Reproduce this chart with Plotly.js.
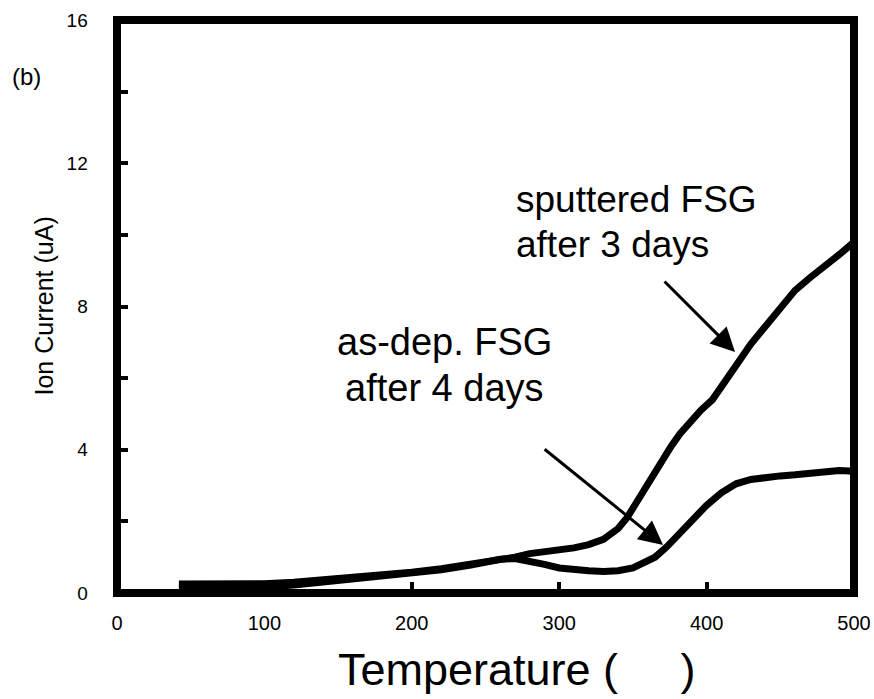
<!DOCTYPE html>
<html>
<head>
<meta charset="utf-8">
<script src="https://cdn.plot.ly/plotly-3.0.1.min.js"></script>
<style>html,body{margin:0;padding:0;background:#fff;}</style>
</head>
<body>
<div id="chart" style="width:874px;height:699px;"></div>
<script>
// Temperature (x) values and ion current (y) values
const tempSputtered = [42,60,80,100,120,140,160,180,200,220,240,250,260,270,280,290,300,310,320,330,340,346,352,358,364,370,376,382,389,396,404,412,420,430,440,450,460,470,480,490,500];
const ionSputtered  = [0.25,0.25,0.25,0.26,0.3,0.36,0.42,0.5,0.58,0.68,0.8,0.88,0.95,1.0,1.1,1.15,1.2,1.26,1.35,1.5,1.8,2.1,2.5,2.9,3.35,3.75,4.1,4.45,4.8,5.1,5.4,5.85,6.35,6.95,7.45,7.95,8.45,8.8,9.1,9.45,9.8];

const tempAsDep = [42,60,80,100,120,140,160,180,200,220,240,250,260,270,280,290,300,310,320,330,340,350,357,365,373,380,391,400,410,420,430,440,450,460,470,480,490,500];
const ionAsDep  = [0.15,0.15,0.15,0.17,0.22,0.3,0.38,0.47,0.55,0.65,0.78,0.86,0.94,0.96,0.9,0.8,0.7,0.64,0.62,0.6,0.62,0.7,0.82,1.0,1.29,1.6,2.04,2.45,2.8,3.05,3.17,3.23,3.27,3.3,3.35,3.4,3.42,3.4];

const xTicks = [0,100,200,300,400,500];
const yTicks = [0,4,8,12,16];

const traces = [
  {x: tempAsDep, y: ionAsDep, mode: 'lines', line: {color: '#000', width: 7}, showlegend: false, hoverinfo: 'skip'},
  {x: tempSputtered, y: ionSputtered, mode: 'lines', line: {color: '#000', width: 7}, showlegend: false, hoverinfo: 'skip'}
];

const fontFam = 'Liberation Sans, Arial, sans-serif';

const layout = {
  width: 874, height: 699,
  margin: {l: 117, r: 20, t: 20, b: 106, pad: 0},
  paper_bgcolor: '#fff', plot_bgcolor: '#fff',
  font: {family: fontFam, color: '#000'},
  xaxis: {
    range: [0, 500], tickvals: xTicks, ticktext: xTicks.map(String),
    ticks: 'inside', ticklen: 11, tickwidth: 4, tickcolor: '#000',
    showline: false, showgrid: false, zeroline: false, layer: 'below traces',
    tickfont: {size: 20, family: fontFam},
    ticklabelstandoff: 16
  },
  yaxis: {
    range: [0, 16], tickvals: yTicks, ticktext: yTicks.map(v => v + '\u00A0'),
    ticks: 'inside', ticklen: 11, tickwidth: 4, tickcolor: '#000',
    minor: {dtick: 2, ticks: 'inside', ticklen: 11, tickwidth: 4, tickcolor: '#000', showgrid: false},
    showline: false, showgrid: false, zeroline: false, layer: 'below traces',
    tickfont: {size: 19, family: fontFam},
    ticklabelstandoff: 23
  },
  shapes: [
    {type: 'rect', xref: 'paper', yref: 'paper', x0: 0, x1: 1, y0: 0, y1: 1, line: {color: '#000', width: 8}, fillcolor: 'rgba(0,0,0,0)', layer: 'above'}
  ],
  annotations: [
    {xref: 'paper', yref: 'paper', x: -0.1228, y: 0.902, text: '(b)', showarrow: false, font: {size: 24}, xanchor: 'center', yanchor: 'middle'},
    {xref: 'paper', yref: 'paper', x: -0.1004, y: 0.5, text: 'Ion Current (uA)', textangle: -90, showarrow: false, font: {size: 25}, xanchor: 'center', yanchor: 'middle'},
    {xref: 'paper', yref: 'paper', x: 0.543, y: -0.133, text: 'Temperature (\u00A0\u00A0\u00A0\u00A0\u00A0)', showarrow: false, font: {size: 45}, xanchor: 'center', yanchor: 'middle'},
    {xref: 'x', yref: 'y', x: 269, y: 10.98, text: 'sputtered FSG', showarrow: false, font: {size: 37}, xanchor: 'left', yanchor: 'middle'},
    {xref: 'x', yref: 'y', x: 269, y: 9.72, text: 'after 3 days', showarrow: false, font: {size: 37}, xanchor: 'left', yanchor: 'middle'},
    {xref: 'x', yref: 'y', x: 222, y: 7.0, text: 'as-dep. FSG', showarrow: false, font: {size: 38}, xanchor: 'center', yanchor: 'middle'},
    {xref: 'x', yref: 'y', x: 222, y: 5.72, text: 'after 4 days', showarrow: false, font: {size: 38}, xanchor: 'center', yanchor: 'middle'},
    {xref: 'x', yref: 'y', x: 419.3, y: 6.73, ax: -72, ay: -72, text: '', showarrow: true, arrowhead: 2, arrowsize: 1.6, arrowwidth: 3, arrowcolor: '#000', standoff: 0},
    {xref: 'x', yref: 'y', x: 370.5, y: 1.34, ax: -120, ay: -97, text: '', showarrow: true, arrowhead: 2, arrowsize: 1.6, arrowwidth: 3, arrowcolor: '#000', standoff: 0}
  ]
};

Plotly.newPlot('chart', traces, layout, {staticPlot: true, displayModeBar: false});
</script>
</body>
</html>
